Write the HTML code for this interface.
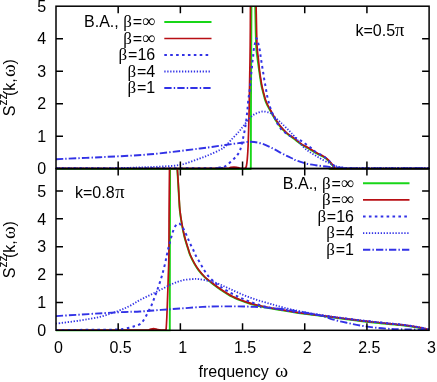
<!DOCTYPE html>
<html><head><meta charset="utf-8"><title>S^zz(k,omega)</title>
<style>
html,body{margin:0;padding:0;background:#fff;}
body{width:437px;height:382px;overflow:hidden;}
svg{display:block;will-change:transform;}
text{font-family:"Liberation Sans",sans-serif;font-size:16px;fill:#000;}
.sy{font-family:"Liberation Serif",serif;}
.be{font-family:"Liberation Serif",serif;font-size:17px;}
.pi{font-family:"Liberation Serif",serif;font-size:18.5px;}
.inf{font-family:"Liberation Serif",serif;font-size:18.5px;}
.sup{font-size:12px;}
</style></head><body>
<svg width="437" height="382" viewBox="0 0 437 382">
<rect width="437" height="382" fill="#fff"/>
<defs>
<clipPath id="cu"><rect x="56.0" y="6.2" width="373.1" height="163.7"/></clipPath>
<clipPath id="cl"><rect x="56.0" y="168.6" width="373.1" height="163.0"/></clipPath>
</defs>
<g clip-path="url(#cu)">
<path d="M56.00,168.95 L250.80,168.95 L251.00,100.00 L251.50,-5.00 M255.00,-5.00 C255.03,-3.17 255.02,-2.33 255.20,6.00 C255.38,14.33 255.73,36.33 256.10,45.00 C256.47,53.67 256.88,53.60 257.40,58.00 C257.93,62.40 258.61,66.97 259.25,71.40 C259.89,75.83 260.70,81.43 261.25,84.60 C261.80,87.77 262.12,88.60 262.55,90.40 C262.98,92.20 263.40,93.73 263.85,95.40 C264.30,97.07 264.67,98.73 265.25,100.40 C265.83,102.07 266.50,103.65 267.35,105.40 C268.20,107.15 268.97,108.42 270.35,110.90 C271.73,113.38 274.02,117.68 275.65,120.30 C277.28,122.92 278.42,124.50 280.15,126.60 C281.88,128.70 284.38,131.32 286.05,132.90 C287.72,134.48 288.72,135.03 290.15,136.10 C291.58,137.17 292.90,137.98 294.65,139.30 C296.40,140.62 298.37,142.48 300.65,144.00 C302.93,145.52 305.92,146.97 308.35,148.40 C310.78,149.83 313.37,151.50 315.25,152.60 C317.13,153.70 318.50,154.40 319.65,155.00 C320.80,155.60 321.05,155.57 322.15,156.20 C323.25,156.83 324.88,157.68 326.25,158.80 C327.62,159.92 329.20,161.65 330.35,162.90 C331.50,164.15 332.47,165.45 333.15,166.30 C333.83,167.15 333.87,167.55 334.45,168.00 C335.03,168.45 320.87,168.83 336.65,169.00 C352.43,169.17 413.73,169.00 429.15,169.00" stroke="#18d618" stroke-width="1.9" fill="none" stroke-linejoin="round"/>
<path d="M56.00,168.45 C84.33,168.45 197.00,168.59 226.00,168.45 C255.00,168.31 228.67,167.84 230.00,167.60 C231.33,167.36 232.67,166.98 234.00,167.00 C235.33,167.02 236.67,167.46 238.00,167.70 C239.33,167.94 240.75,168.32 242.00,168.45 C243.25,168.57 244.92,168.45 245.50,168.45 M245.30,168.60 C245.48,168.17 246.07,167.60 246.40,166.00 C246.73,164.40 247.02,162.33 247.30,159.00 C247.58,155.67 247.83,152.50 248.10,146.00 C248.37,139.50 248.68,128.55 248.90,120.00 C249.12,111.45 249.18,107.20 249.40,94.70 C249.62,82.20 250.02,61.62 250.20,45.00 C250.38,28.38 250.45,3.33 250.50,-5.00 M255.90,-5.00 C255.93,-3.17 255.92,-2.33 256.10,6.00 C256.28,14.33 256.63,36.33 257.00,45.00 C257.37,53.67 257.87,53.67 258.30,58.00 C258.73,62.33 259.05,66.63 259.60,71.00 C260.15,75.37 261.05,81.03 261.60,84.20 C262.15,87.37 262.47,88.20 262.90,90.00 C263.33,91.80 263.75,93.33 264.20,95.00 C264.65,96.67 265.02,98.33 265.60,100.00 C266.18,101.67 266.85,103.25 267.70,105.00 C268.55,106.75 269.32,108.02 270.70,110.50 C272.08,112.98 274.37,117.28 276.00,119.90 C277.63,122.52 278.77,124.10 280.50,126.20 C282.23,128.30 284.73,130.92 286.40,132.50 C288.07,134.08 289.07,134.63 290.50,135.70 C291.93,136.77 293.25,137.58 295.00,138.90 C296.75,140.22 298.72,142.08 301.00,143.60 C303.28,145.12 306.27,146.57 308.70,148.00 C311.13,149.43 313.72,151.10 315.60,152.20 C317.48,153.30 318.85,154.00 320.00,154.60 C321.15,155.20 321.40,155.17 322.50,155.80 C323.60,156.43 325.23,157.28 326.60,158.40 C327.97,159.52 329.55,161.25 330.70,162.50 C331.85,163.75 332.82,165.05 333.50,165.90 C334.18,166.75 334.22,167.15 334.80,167.60 C335.38,168.05 321.22,168.43 337.00,168.60 C352.78,168.77 414.08,168.60 429.50,168.60" stroke="#b80f14" stroke-width="1.7" fill="none" stroke-linejoin="round"/>
<path d="M56.00,168.25 C81.33,168.25 181.00,168.34 208.00,168.25 C235.00,168.16 215.17,168.01 218.00,167.70 C220.83,167.39 222.67,167.58 225.00,166.40 C227.33,165.22 230.03,162.40 232.00,160.60 C233.97,158.80 235.47,157.28 236.80,155.60 C238.13,153.92 239.00,153.20 240.00,150.50 C241.00,147.80 241.88,143.53 242.80,139.40 C243.72,135.27 244.75,130.43 245.50,125.70 C246.25,120.97 246.83,115.28 247.30,111.00 C247.77,106.72 247.93,103.27 248.30,100.00 C248.67,96.73 249.18,93.82 249.50,91.40 C249.82,88.98 250.00,87.47 250.20,85.50 C250.40,83.53 250.55,81.45 250.70,79.60 C250.85,77.75 250.92,76.25 251.10,74.40 C251.28,72.55 251.58,70.57 251.80,68.50 C252.02,66.43 252.18,63.95 252.40,62.00 C252.62,60.05 252.88,58.77 253.10,56.80 C253.32,54.83 253.42,52.28 253.70,50.20 C253.98,48.12 254.33,46.28 254.80,44.30 C255.27,42.32 255.92,38.43 256.50,38.30 C257.08,38.17 257.73,41.40 258.30,43.50 C258.87,45.60 259.50,48.65 259.90,50.90 C260.30,53.15 260.42,55.05 260.70,57.00 C260.98,58.95 261.30,60.68 261.60,62.60 C261.90,64.52 262.18,66.53 262.50,68.50 C262.82,70.47 263.18,72.43 263.50,74.40 C263.82,76.37 264.07,78.33 264.40,80.30 C264.73,82.27 265.17,84.30 265.50,86.20 C265.83,88.10 266.05,89.73 266.40,91.70 C266.75,93.67 267.15,96.00 267.60,98.00 C268.05,100.00 268.58,101.88 269.10,103.70 C269.62,105.52 270.08,107.17 270.70,108.90 C271.32,110.63 272.02,112.35 272.80,114.10 C273.58,115.85 274.53,117.65 275.40,119.40 C276.27,121.15 276.95,122.87 278.00,124.60 C279.05,126.33 280.32,128.30 281.70,129.80 C283.08,131.30 284.82,132.53 286.30,133.60 C287.78,134.67 288.85,135.38 290.60,136.20 C292.35,137.02 294.90,137.63 296.80,138.50 C298.70,139.37 300.35,140.35 302.00,141.40 C303.65,142.45 305.13,143.65 306.70,144.80 C308.27,145.95 309.92,147.13 311.40,148.30 C312.88,149.47 313.75,150.55 315.60,151.80 C317.45,153.05 320.67,154.67 322.50,155.80 C324.33,156.93 325.23,157.48 326.60,158.60 C327.97,159.72 329.47,161.35 330.70,162.50 C331.93,163.65 332.78,164.65 334.00,165.50 C335.22,166.35 336.17,167.12 338.00,167.60 C339.83,168.08 341.33,168.29 345.00,168.40 C348.67,168.51 345.92,168.28 360.00,168.25 C374.08,168.22 417.92,168.25 429.50,168.25" stroke="#3232e6" stroke-width="2" fill="none" stroke-dasharray="2.6 3.3"/>
<path d="M56.00,168.25 C65.00,168.26 96.00,168.44 110.00,168.30 C124.00,168.16 131.67,167.68 140.00,167.40 C148.33,167.12 153.25,167.03 160.00,166.60 C166.75,166.17 173.83,166.17 180.50,164.80 C187.17,163.43 195.08,160.12 200.00,158.40 C204.92,156.68 206.67,155.92 210.00,154.50 C213.33,153.08 217.50,151.22 220.00,149.90 C222.50,148.58 223.00,148.42 225.00,146.60 C227.00,144.78 229.67,141.52 232.00,139.00 C234.33,136.48 237.05,133.72 239.00,131.50 C240.95,129.28 241.92,127.95 243.70,125.70 C245.48,123.45 247.72,120.00 249.70,118.00 C251.68,116.00 253.47,114.78 255.60,113.70 C257.73,112.62 260.27,111.68 262.50,111.50 C264.73,111.32 267.42,112.08 269.00,112.60 C270.58,113.12 270.42,113.27 272.00,114.60 C273.58,115.93 276.82,119.08 278.50,120.60 C280.18,122.12 280.98,122.67 282.10,123.70 C283.22,124.73 284.15,125.75 285.20,126.80 C286.25,127.85 287.43,129.03 288.40,130.00 C289.37,130.97 289.78,131.30 291.00,132.60 C292.22,133.90 293.78,135.57 295.70,137.80 C297.62,140.03 300.33,143.75 302.50,146.00 C304.67,148.25 306.52,149.70 308.70,151.30 C310.88,152.90 313.30,154.20 315.60,155.60 C317.90,157.00 320.22,158.43 322.50,159.70 C324.78,160.97 327.47,162.28 329.30,163.20 C331.13,164.12 331.72,164.53 333.50,165.20 C335.28,165.87 337.42,166.70 340.00,167.20 C342.58,167.70 344.83,168.02 349.00,168.20 C353.17,168.38 351.58,168.24 365.00,168.25 C378.42,168.26 418.75,168.25 429.50,168.25" stroke="#3232e6" stroke-width="1.8" fill="none" stroke-dasharray="1.3 1.65"/>
<path d="M56.00,159.20 C63.33,158.87 84.33,158.02 100.00,157.20 C115.67,156.38 133.33,155.75 150.00,154.30 C166.67,152.85 187.50,150.05 200.00,148.50 C212.50,146.95 218.33,145.92 225.00,145.00 C231.67,144.08 235.67,143.53 240.00,143.00 C244.33,142.47 247.33,141.68 251.00,141.80 C254.67,141.92 258.33,142.57 262.00,143.70 C265.67,144.83 269.65,146.97 273.00,148.60 C276.35,150.23 279.62,152.20 282.10,153.50 C284.58,154.80 285.98,155.47 287.90,156.40 C289.82,157.33 292.42,158.50 293.60,159.10 C294.78,159.70 293.17,159.32 295.00,160.00 C296.83,160.68 301.17,162.33 304.60,163.20 C308.03,164.07 311.48,164.58 315.60,165.20 C319.72,165.82 324.73,166.47 329.30,166.90 C333.87,167.33 337.88,167.55 343.00,167.80 C348.12,168.05 345.58,168.33 360.00,168.40 C374.42,168.47 417.92,168.28 429.50,168.25" stroke="#3232e6" stroke-width="1.9" fill="none" stroke-dasharray="7.3 2.15 1.4 2.15"/>
</g>
<g clip-path="url(#cl)">
<path d="M56.00,330.65 L169.80,330.65 L169.90,250.00 L170.10,160.00 M177.10,160.45 C177.13,161.88 177.13,165.38 177.30,169.05 C177.47,172.72 177.83,177.88 178.10,182.45 C178.37,187.02 178.62,191.78 178.90,196.45 C179.18,201.12 179.33,205.93 179.80,210.45 C180.27,214.97 180.93,219.18 181.70,223.55 C182.47,227.92 183.30,232.28 184.40,236.65 C185.50,241.02 187.33,246.62 188.30,249.75 C189.27,252.88 189.18,253.10 190.20,255.45 C191.22,257.80 193.02,261.40 194.40,263.85 C195.78,266.30 196.77,267.88 198.50,270.15 C200.23,272.42 202.70,275.37 204.80,277.45 C206.90,279.53 208.58,280.70 211.10,282.65 C213.62,284.60 216.33,286.77 219.90,289.15 C223.47,291.53 228.30,294.80 232.50,296.95 C236.70,299.10 240.90,300.58 245.10,302.05 C249.30,303.52 253.52,304.70 257.70,305.75 C261.88,306.80 263.92,307.22 270.20,308.35 C276.48,309.48 287.00,311.30 295.40,312.55 C303.80,313.80 312.05,314.73 320.60,315.85 C329.15,316.97 337.90,318.15 346.70,319.25 C355.50,320.35 364.48,321.47 373.40,322.45 C382.32,323.43 392.62,324.25 400.20,325.15 C407.78,326.05 414.03,327.00 418.90,327.85 C423.77,328.70 427.65,329.85 429.40,330.25" stroke="#18d618" stroke-width="1.9" fill="none" stroke-linejoin="round"/>
<path d="M56.00,330.15 C71.00,330.15 130.42,330.24 146.00,330.15 C161.58,330.06 148.23,329.86 149.50,329.60 C150.77,329.34 152.27,328.60 153.60,328.60 C154.93,328.60 156.27,329.34 157.50,329.60 C158.73,329.86 159.60,330.06 161.00,330.15 C162.40,330.24 165.08,330.15 165.90,330.15 M165.90,330.30 C165.97,329.75 166.15,329.08 166.30,327.00 C166.45,324.92 166.58,322.82 166.80,317.80 C167.02,312.78 167.35,303.88 167.60,296.90 C167.85,289.92 168.08,282.88 168.30,275.90 C168.52,268.92 168.77,265.98 168.90,255.00 C169.03,244.02 168.98,225.83 169.10,210.00 C169.22,194.17 169.52,168.33 169.60,160.00 M177.20,160.00 C177.23,161.43 177.23,164.93 177.40,168.60 C177.57,172.27 177.93,177.43 178.20,182.00 C178.47,186.57 178.72,191.33 179.00,196.00 C179.28,200.67 179.43,205.48 179.90,210.00 C180.37,214.52 181.03,218.73 181.80,223.10 C182.57,227.47 183.40,231.83 184.50,236.20 C185.60,240.57 187.43,246.17 188.40,249.30 C189.37,252.43 189.28,252.65 190.30,255.00 C191.32,257.35 193.12,260.95 194.50,263.40 C195.88,265.85 196.87,267.43 198.60,269.70 C200.33,271.97 202.80,274.92 204.90,277.00 C207.00,279.08 208.68,280.25 211.20,282.20 C213.72,284.15 216.43,286.32 220.00,288.70 C223.57,291.08 228.40,294.35 232.60,296.50 C236.80,298.65 241.00,300.13 245.20,301.60 C249.40,303.07 253.62,304.25 257.80,305.30 C261.98,306.35 264.02,306.77 270.30,307.90 C276.58,309.03 287.10,310.85 295.50,312.10 C303.90,313.35 312.15,314.28 320.70,315.40 C329.25,316.52 338.00,317.70 346.80,318.80 C355.60,319.90 364.58,321.02 373.50,322.00 C382.42,322.98 392.72,323.80 400.30,324.70 C407.88,325.60 414.13,326.55 419.00,327.40 C423.87,328.25 427.75,329.40 429.50,329.80" stroke="#b80f14" stroke-width="1.7" fill="none" stroke-linejoin="round"/>
<path d="M56.00,329.90 C65.00,329.87 98.50,329.92 110.00,329.70 C121.50,329.48 120.83,329.22 125.00,328.60 C129.17,327.98 132.50,326.75 135.00,326.00 C137.50,325.25 138.65,324.93 140.00,324.10 C141.35,323.27 141.88,322.75 143.10,321.00 C144.32,319.25 145.90,316.22 147.30,313.60 C148.70,310.98 150.27,308.08 151.50,305.30 C152.73,302.52 153.65,299.70 154.70,296.90 C155.75,294.10 156.77,291.47 157.80,288.50 C158.83,285.53 160.03,281.88 160.90,279.10 C161.77,276.32 162.30,274.42 163.00,271.80 C163.70,269.18 164.47,266.17 165.10,263.40 C165.73,260.63 166.30,257.55 166.80,255.20 C167.30,252.85 167.67,251.17 168.10,249.30 C168.53,247.43 168.92,245.87 169.40,244.00 C169.88,242.13 170.45,240.05 171.00,238.10 C171.55,236.15 172.05,234.18 172.70,232.30 C173.35,230.42 173.88,228.30 174.90,226.80 C175.92,225.30 177.50,223.15 178.80,223.30 C180.10,223.45 181.53,225.98 182.70,227.70 C183.87,229.42 184.92,231.80 185.80,233.60 C186.68,235.40 187.25,236.77 188.00,238.50 C188.75,240.23 189.47,242.20 190.30,244.00 C191.13,245.80 192.12,247.43 193.00,249.30 C193.88,251.17 194.48,253.03 195.60,255.20 C196.72,257.37 198.32,259.88 199.70,262.30 C201.08,264.72 202.50,267.43 203.90,269.70 C205.30,271.97 206.53,273.98 208.10,275.90 C209.67,277.82 211.32,279.45 213.30,281.20 C215.28,282.95 216.78,284.27 220.00,286.40 C223.22,288.53 228.40,291.77 232.60,294.00 C236.80,296.23 241.00,298.05 245.20,299.80 C249.40,301.55 253.62,303.18 257.80,304.50 C261.98,305.82 264.02,306.45 270.30,307.70 C276.58,308.95 287.10,310.73 295.50,312.00 C303.90,313.27 312.15,314.18 320.70,315.30 C329.25,316.42 338.00,317.60 346.80,318.70 C355.60,319.80 364.58,320.92 373.50,321.90 C382.42,322.88 392.72,323.70 400.30,324.60 C407.88,325.50 414.13,326.43 419.00,327.30 C423.87,328.17 427.75,329.38 429.50,329.80" stroke="#3232e6" stroke-width="2" fill="none" stroke-dasharray="2.6 3.3"/>
<path d="M56.00,323.60 C60.00,323.08 72.67,321.63 80.00,320.50 C87.33,319.37 93.67,318.38 100.00,316.80 C106.33,315.22 113.00,312.83 118.00,311.00 C123.00,309.17 126.33,307.63 130.00,305.80 C133.67,303.97 136.58,301.83 140.00,300.00 C143.42,298.17 147.02,296.53 150.50,294.80 C153.98,293.07 157.42,291.35 160.90,289.60 C164.38,287.85 167.90,285.82 171.40,284.30 C174.90,282.78 178.40,281.37 181.90,280.50 C185.40,279.63 189.62,279.33 192.40,279.10 C195.18,278.87 196.17,278.85 198.60,279.10 C201.03,279.35 204.27,280.02 207.00,280.60 C209.73,281.18 212.52,281.82 215.00,282.60 C217.48,283.38 219.62,284.33 221.90,285.30 C224.18,286.27 226.42,287.37 228.70,288.40 C230.98,289.43 233.30,290.47 235.60,291.50 C237.90,292.53 240.22,293.65 242.50,294.60 C244.78,295.55 247.02,296.35 249.30,297.20 C251.58,298.05 253.90,298.93 256.20,299.70 C258.50,300.47 260.80,301.12 263.10,301.80 C265.40,302.48 268.02,303.23 270.00,303.80 C271.98,304.37 272.83,304.60 275.00,305.20 C277.17,305.80 279.58,306.53 283.00,307.40 C286.42,308.27 289.22,309.13 295.50,310.40 C301.78,311.67 312.15,313.63 320.70,315.00 C329.25,316.37 338.00,317.47 346.80,318.60 C355.60,319.73 364.58,320.82 373.50,321.80 C382.42,322.78 392.72,323.60 400.30,324.50 C407.88,325.40 414.13,326.32 419.00,327.20 C423.87,328.08 427.75,329.37 429.50,329.80" stroke="#3232e6" stroke-width="1.8" fill="none" stroke-dasharray="1.3 1.65"/>
<path d="M56.00,316.10 C66.33,315.47 104.00,313.07 118.00,312.30 C132.00,311.53 132.85,311.90 140.00,311.50 C147.15,311.10 153.92,310.42 160.90,309.90 C167.88,309.38 174.92,308.90 181.90,308.40 C188.88,307.90 196.45,307.23 202.80,306.90 C209.15,306.57 212.93,306.47 220.00,306.40 C227.07,306.33 236.82,306.25 245.20,306.50 C253.58,306.75 261.92,307.17 270.30,307.90 C278.68,308.63 287.10,309.62 295.50,310.90 C303.90,312.18 314.38,314.15 320.70,315.60 C327.02,317.05 329.05,318.40 333.40,319.60 C337.75,320.80 342.33,321.82 346.80,322.80 C351.27,323.78 355.75,324.73 360.20,325.50 C364.65,326.27 369.03,326.87 373.50,327.40 C377.97,327.93 382.53,328.38 387.00,328.70 C391.47,329.02 393.22,329.12 400.30,329.30 C407.38,329.48 424.63,329.72 429.50,329.80" stroke="#3232e6" stroke-width="1.9" fill="none" stroke-dasharray="7.3 2.15 1.4 2.15"/>
</g>
<rect x="56.0" y="6.2" width="373.1" height="162.3" fill="none" stroke="#000" stroke-width="1.5"/>
<rect x="56.0" y="168.6" width="373.1" height="161.7" fill="none" stroke="#000" stroke-width="1.5"/>
<path d="M118.18,6.25 v7 M118.18,161.60 v14 M118.18,323.30 v7 M180.37,6.25 v7 M180.37,161.60 v14 M180.37,323.30 v7 M242.55,6.25 v7 M242.55,161.60 v14 M242.55,323.30 v7 M304.73,6.25 v7 M304.73,161.60 v14 M304.73,323.30 v7 M366.92,6.25 v7 M366.92,161.60 v14 M366.92,323.30 v7 M56.00,136.13 h7 M422.10,136.13 h7 M56.00,103.66 h7 M422.10,103.66 h7 M56.00,71.19 h7 M422.10,71.19 h7 M56.00,38.72 h7 M422.10,38.72 h7 M56.00,302.42 h7 M422.10,302.42 h7 M56.00,274.54 h7 M422.10,274.54 h7 M56.00,246.66 h7 M422.10,246.66 h7 M56.00,218.78 h7 M422.10,218.78 h7 M56.00,190.90 h7 M422.10,190.90 h7" stroke="#000" stroke-width="1.5" fill="none"/>
<text x="46.2" y="174.3" text-anchor="end">0</text>
<text x="46.2" y="141.8" text-anchor="end">1</text>
<text x="46.2" y="109.4" text-anchor="end">2</text>
<text x="46.2" y="76.9" text-anchor="end">3</text>
<text x="46.2" y="44.4" text-anchor="end">4</text>
<text x="46.2" y="11.9" text-anchor="end">5</text>
<text x="46.2" y="336.0" text-anchor="end">0</text>
<text x="46.2" y="308.1" text-anchor="end">1</text>
<text x="46.2" y="280.2" text-anchor="end">2</text>
<text x="46.2" y="252.4" text-anchor="end">3</text>
<text x="46.2" y="224.5" text-anchor="end">4</text>
<text x="46.2" y="196.6" text-anchor="end">5</text>
<text x="58.4" y="352.6" text-anchor="middle">0</text>
<text x="120.6" y="352.6" text-anchor="middle">0.5</text>
<text x="182.8" y="352.6" text-anchor="middle">1</text>
<text x="245.0" y="352.6" text-anchor="middle">1.5</text>
<text x="307.1" y="352.6" text-anchor="middle">2</text>
<text x="369.3" y="352.6" text-anchor="middle">2.5</text>
<text x="431.5" y="352.6" text-anchor="middle">3</text>
<text x="155.2" y="27.3" text-anchor="end">B.A., <tspan class="be">β</tspan><tspan dx="0.8">=</tspan><tspan class="inf">∞</tspan></text>
<line x1="164.3" y1="22.0" x2="211.5" y2="22.0" stroke="#18d618" stroke-width="1.9"/>
<text x="155.2" y="43.8" text-anchor="end"><tspan class="be">β</tspan><tspan dx="0.8">=</tspan><tspan class="inf">∞</tspan></text>
<line x1="164.3" y1="38.5" x2="211.5" y2="38.5" stroke="#b80f14" stroke-width="1.7"/>
<text x="155.2" y="60.3" text-anchor="end"><tspan class="be">β</tspan><tspan dx="0.8">=16</tspan></text>
<line x1="164.3" y1="55.0" x2="211.5" y2="55.0" stroke="#3232e6" stroke-width="2" stroke-dasharray="2.6 3.3"/>
<text x="155.2" y="76.8" text-anchor="end"><tspan class="be">β</tspan><tspan dx="0.8">=4</tspan></text>
<line x1="164.3" y1="71.5" x2="211.5" y2="71.5" stroke="#3232e6" stroke-width="1.8" stroke-dasharray="1.3 1.65"/>
<text x="155.2" y="93.3" text-anchor="end"><tspan class="be">β</tspan><tspan dx="0.8">=1</tspan></text>
<line x1="164.3" y1="88.0" x2="211.5" y2="88.0" stroke="#3232e6" stroke-width="1.9" stroke-dasharray="7.3 2.15 1.4 2.15"/>
<text x="354.0" y="188.6" text-anchor="end">B.A., <tspan class="be">β</tspan><tspan dx="0.8">=</tspan><tspan class="inf">∞</tspan></text>
<line x1="363.0" y1="183.3" x2="409.5" y2="183.3" stroke="#18d618" stroke-width="1.9"/>
<text x="354.0" y="205.2" text-anchor="end"><tspan class="be">β</tspan><tspan dx="0.8">=</tspan><tspan class="inf">∞</tspan></text>
<line x1="363.0" y1="199.9" x2="409.5" y2="199.9" stroke="#b80f14" stroke-width="1.7"/>
<text x="354.0" y="221.8" text-anchor="end"><tspan class="be">β</tspan><tspan dx="0.8">=16</tspan></text>
<line x1="363.0" y1="216.5" x2="409.5" y2="216.5" stroke="#3232e6" stroke-width="2" stroke-dasharray="2.6 3.3"/>
<text x="354.0" y="238.4" text-anchor="end"><tspan class="be">β</tspan><tspan dx="0.8">=4</tspan></text>
<line x1="363.0" y1="233.1" x2="409.5" y2="233.1" stroke="#3232e6" stroke-width="1.8" stroke-dasharray="1.3 1.65"/>
<text x="354.0" y="255.0" text-anchor="end"><tspan class="be">β</tspan><tspan dx="0.8">=1</tspan></text>
<line x1="363.0" y1="249.7" x2="409.5" y2="249.7" stroke="#3232e6" stroke-width="1.9" stroke-dasharray="7.3 2.15 1.4 2.15"/>
<text x="355.5" y="35.7">k=0.5<tspan class="pi">π</tspan></text>
<text x="75" y="198.2">k=0.8<tspan class="pi" dx="0.6">π</tspan></text>
<text x="198.6" y="376.5">frequency</text>
<text class="sy" transform="translate(274.9,376.7) scale(1.25,1.18)">ω</text>
<text transform="translate(15.1,116.2) rotate(-90)">S<tspan class="sup" dy="-8">zz</tspan><tspan dy="8" dx="-2.5">(k,</tspan></text>
<text class="sy" transform="translate(15.1,76.9) rotate(-90) scale(1.2,1.15)">ω</text>
<text transform="translate(15.1,64.6) rotate(-90)">)</text>
<text transform="translate(15.1,278.2) rotate(-90)">S<tspan class="sup" dy="-8">zz</tspan><tspan dy="8" dx="-2.5">(k,</tspan></text>
<text class="sy" transform="translate(15.1,238.9) rotate(-90) scale(1.2,1.15)">ω</text>
<text transform="translate(15.1,226.6) rotate(-90)">)</text>
</svg>
</body></html>
